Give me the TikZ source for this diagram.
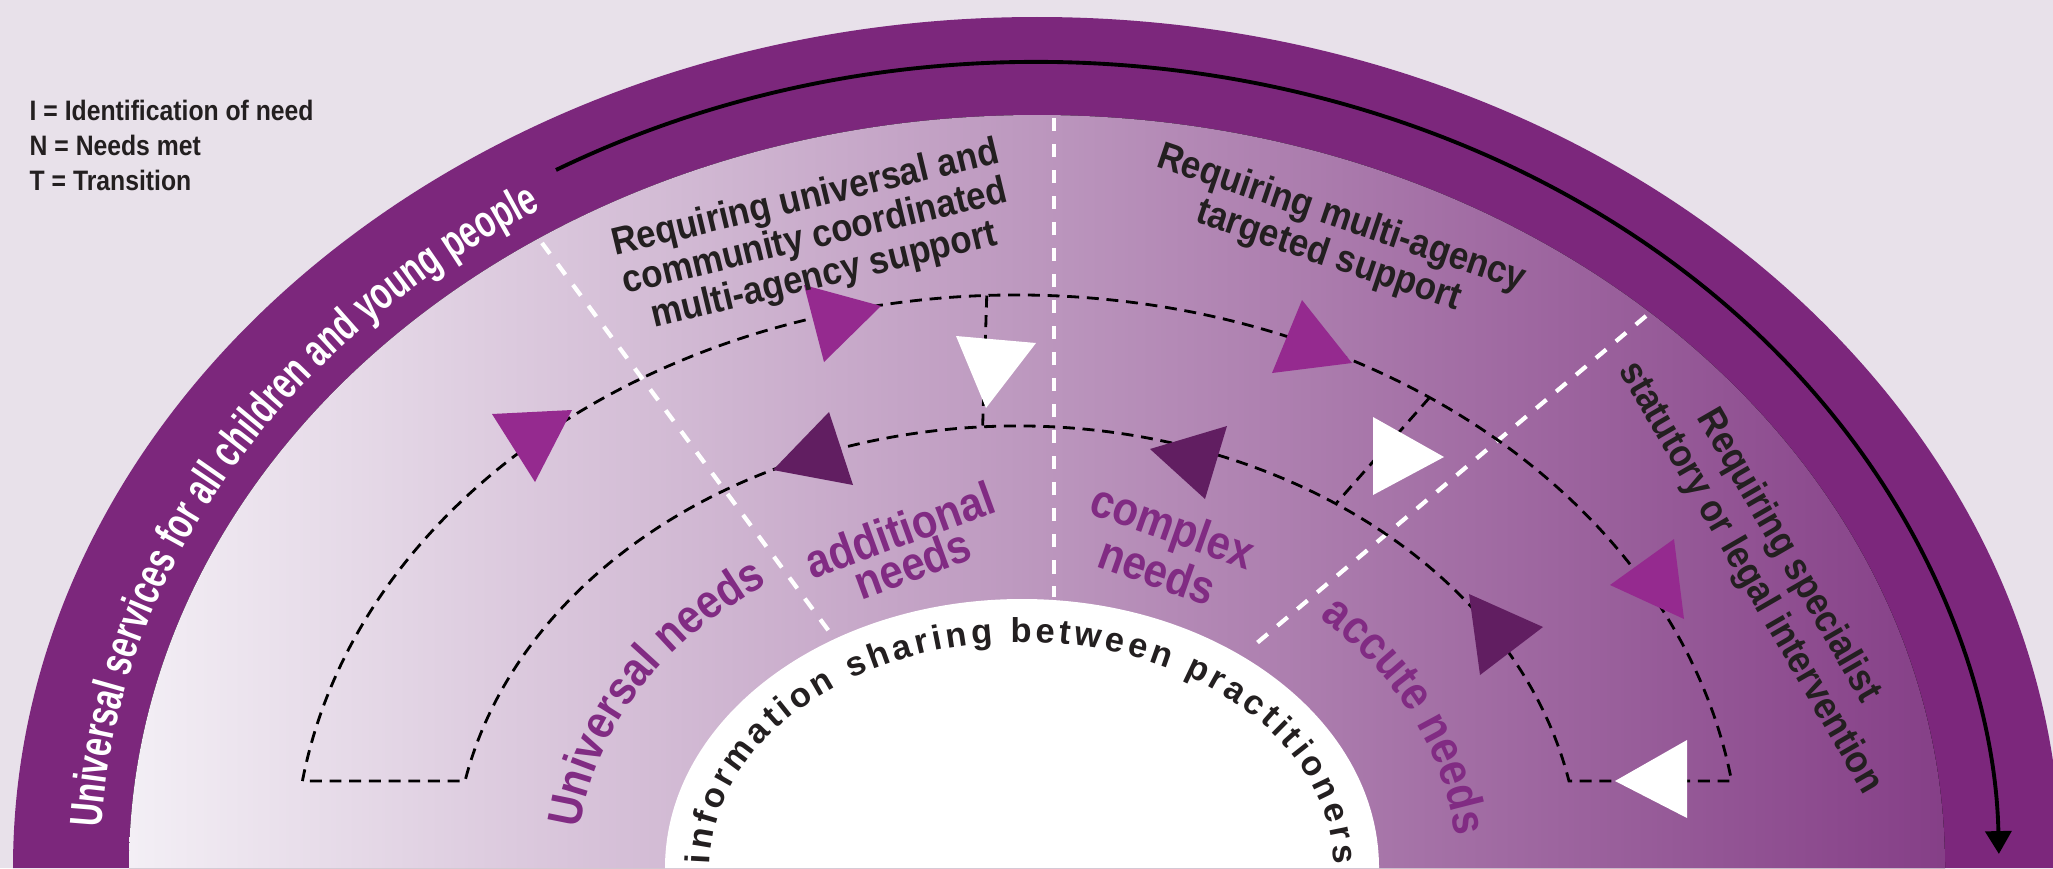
\documentclass[tikz,border=0pt]{standalone}
\usepackage{fontspec}
\setmainfont{Liberation Sans}
\newfontfamily\keyfont[FakeStretch=0.88]{Liberation Sans}
\newfontfamily\bandfont[FakeStretch=0.7]{Liberation Sans}
\newfontfamily\zonefont[FakeStretch=0.9]{Liberation Sans}
\newfontfamily\needfont[FakeStretch=0.88]{Liberation Sans}
\usepackage{tikz}
\usetikzlibrary{arrows.meta,calc,decorations.text}

\definecolor{bgLilac}{HTML}{E8E1EA}
\definecolor{bandPurple}{HTML}{7C277C}
\definecolor{fillLight}{HTML}{F3EFF5}
\definecolor{fillMid}{HTML}{B089B4}
\definecolor{fillDeep}{HTML}{853F87}
\definecolor{markPurple}{HTML}{952A8F}
\definecolor{markDark}{HTML}{611E61}
\definecolor{needPurple}{HTML}{812B83}
\definecolor{inkGrey}{HTML}{231F20}

\begin{document}
\begin{tikzpicture}[
  keytext/.style={inner sep=0pt, anchor=base west, text=inkGrey, font=\keyfont\bfseries\fontsize{8}{10}\selectfont},
  zonetext/.style={inner sep=0pt, align=center, text=inkGrey, font=\zonefont\bfseries\fontsize{11}{9.3}\selectfont},
  needtext/.style={inner sep=0pt, align=center, text=needPurple, font=\needfont\bfseries\fontsize{13.5}{10.3}\selectfont},
  divider/.style={draw=white, line width=1.2pt, dash pattern=on 3.8pt off 3.6pt},
  pathway/.style={draw=black, line width=0.8pt, dash pattern=on 3.4pt off 2.2pt},
  idtri/.style={fill=markPurple},
  mettri/.style={fill=markDark},
  transtri/.style={fill=white}
]
\useasboundingbox (0,0) rectangle (20.53,8.68);

\coordinate (fan) at (10.37,0);
\coordinate (hub) at (10.17,0);
\coordinate (core) at (10.22,0);

% background, outer band and shaded field
\fill[bgLilac] (0,0) rectangle (20.53,8.68);
\fill[bandPurple] ($(fan)+(10.24,0)$) arc[start angle=0, end angle=180, x radius=10.24, y radius=8.51] -- cycle;
\fill[left color=fillLight, middle color=fillMid, right color=fillDeep]
  ($(fan)+(9.08,0)$) arc[start angle=0, end angle=180, x radius=9.08, y radius=7.53] -- cycle;

\draw[line width=1.1pt, -{Triangle[length=6.5pt,width=7.4pt]}]
  ($(fan)+(120:9.62 and 8.06)$) arc[start angle=120, end angle=1, x radius=9.62, y radius=8.06];

\path[decorate, decoration={text along path, text align=left,
  text={|\bandfont\bfseries\fontsize{13}{15}\selectfont\color{white}|Universal services for all children and young people}}]
  ($(fan)+(177:9.37 and 7.77)$) arc[start angle=177, end angle=60, x radius=9.37, y radius=7.77];

% zone dividers
\coordinate (sepA1) at (5.42,6.25);
\coordinate (sepA2) at (8.34,2.30);
\coordinate (sepB1) at (10.54,7.50);
\coordinate (sepB2) at (10.54,2.71);
\coordinate (sepC1) at (16.46,5.52);
\coordinate (sepC2) at (12.51,2.20);
\draw[divider] (sepA1) -- (sepA2);
\draw[divider] (sepB1) -- (sepB2);
\draw[divider] (sepC1) -- (sepC2);

\fill[white] ($(core)+(3.57,0)$) arc[start angle=0, end angle=180, x radius=3.57, y radius=2.69] -- cycle;

\path[decorate, decoration={text along path, text align=fit to path,
  text={|\bfseries\fontsize{9.8}{11}\selectfont\color{inkGrey}|information sharing between practitioners}}]
  ($(core)+(179:3.12 and 2.26)$) arc[start angle=179, end angle=1, x radius=3.12, y radius=2.26];

% pathway loop and links
\coordinate (outL) at ($(hub)+(171.27:7.23 and 5.73)$);
\coordinate (inR) at ($(hub)+(11.35:5.63 and 4.42)$);
\coordinate (linkA1) at ($(hub)+(92.4:7.23 and 5.73)$);
\coordinate (linkA2) at ($(hub)+(93.5:5.63 and 4.42)$);
\coordinate (linkB1) at ($(hub)+(55.2:7.23 and 5.73)$);
\coordinate (linkB2) at ($(hub)+(55.5:5.63 and 4.42)$);
\draw[pathway] (outL) arc[start angle=171.27, end angle=8.73, x radius=7.23, y radius=5.73]
  -- (inR) arc[start angle=11.35, end angle=168.65, x radius=5.63, y radius=4.42] -- cycle;
\draw[pathway] (linkA1) -- (linkA2);
\draw[pathway] (linkB1) -- (linkB2);

\fill[idtri] (4.92,4.54) -- (5.72,4.58) -- (5.35,3.86) -- cycle;
\fill[idtri] (8.04,5.83) -- (8.81,5.62) -- (8.24,5.06) -- cycle;
\fill[idtri] (13.02,5.68) -- (13.52,5.05) -- (12.72,4.95) -- cycle;
\fill[idtri] (16.74,3.29) -- (16.84,2.49) -- (16.10,2.83) -- cycle;
\fill[mettri] (8.29,4.56) -- (8.53,3.83) -- (7.73,3.98) -- cycle;
\fill[mettri] (12.27,4.42) -- (12.05,3.69) -- (11.50,4.19) -- cycle;
\fill[mettri] (14.69,2.74) -- (15.43,2.41) -- (14.80,1.93) -- cycle;
\fill[transtri] (9.56,5.32) -- (10.36,5.25) -- (9.86,4.60) -- cycle;
\fill[transtri] (13.73,4.51) -- (14.44,4.11) -- (13.73,3.73) -- cycle;
\fill[transtri] (16.87,1.28) -- (16.87,0.50) -- (16.15,0.87) -- cycle;

% need levels
\path[decorate, decoration={text along path, text align=left,
  text={|\needfont\bfseries\fontsize{13.5}{15}\selectfont\color{needPurple}|Universal needs}}]
  ($(hub)+(173.5:4.40 and 3.45)$) arc[start angle=173.5, end angle=90, x radius=4.40, y radius=3.45];
\path[decorate, decoration={text along path, text align=left,
  text={|\needfont\bfseries\fontsize{13.5}{15}\selectfont\color{needPurple}|accute needs}}]
  ($(hub)+(46.5:4.40 and 3.45)$) arc[start angle=46.5, end angle=-20, x radius=4.40, y radius=3.45];
\node[needtext, rotate=20] (addNeeds) at (9.06,3.215) {additional\\needs};
\node[needtext, rotate=-19.5] (cplxNeeds) at (11.655,3.20) {complex\\needs};

% support zones
\node[zonetext, rotate=13.5] (zoneCoord) at (8.15,6.30) {Requiring universal and\\community coordinated\\multi-agency support};
\node[zonetext, rotate=-18.7] (zoneTarget) at (13.35,6.30) {Requiring multi-agency\\targeted support};
\node[zonetext, rotate=-60, font=\zonefont\bfseries\fontsize{11}{12.5}\selectfont] (zoneSpec) at (17.69,3.01) {Requiring specialist\\statutory or legal intervention};

\node[keytext] (keyI) at (0.29,7.48) {I = Identification of need};
\node[keytext] (keyN) at (0.29,7.13) {N = Needs met};
\node[keytext] (keyT) at (0.29,6.78) {T = Transition};
\end{tikzpicture}
\end{document}
